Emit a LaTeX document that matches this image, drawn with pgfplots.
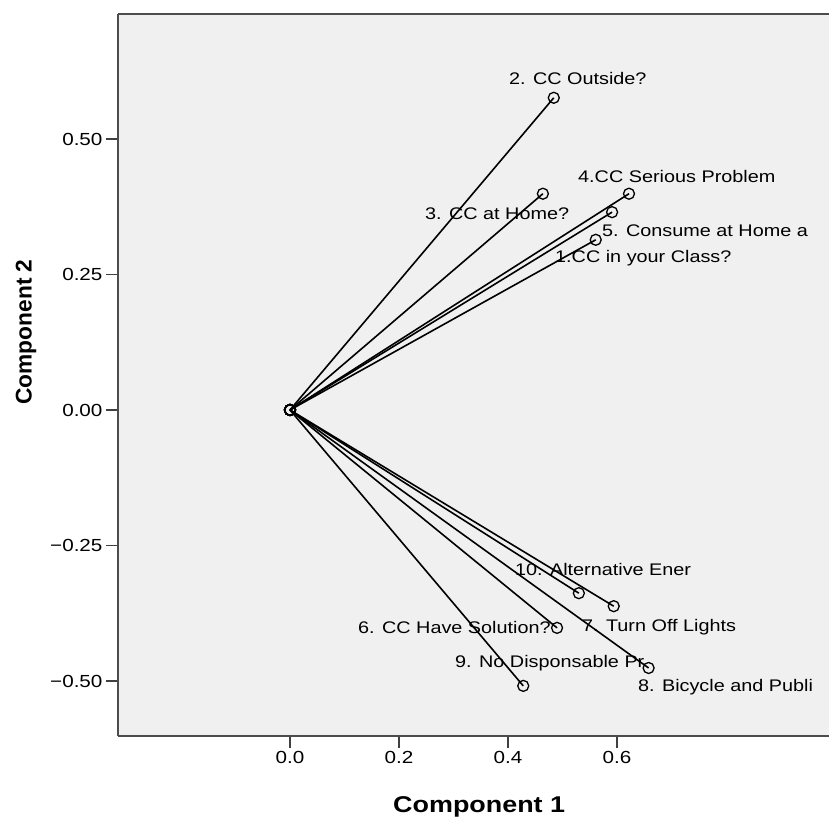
\documentclass[border=0pt]{standalone}
\usepackage{fontspec}
\setmainfont{Liberation Sans}[FakeStretch=1.18]
\newfontfamily\ylabfont{Liberation Sans}
\usepackage{pgfplots}
\pgfplotsset{compat=1.18}
\begin{document}
\begin{tikzpicture}
\begin{axis}[
  scale only axis, width=711pt, height=722pt,
  xmin=-0.3156, xmax=0.989, ymin=-0.6015, ymax=0.7306,
  axis background/.style={fill=black!6},
  axis x line*=box, axis y line*=left,
  axis line style={line width=2.5pt, black!70},
  xtick pos=bottom, ytick pos=left,
  tick align=outside, major tick length=12pt,
  every tick/.style={line width=1.6pt, black!75},
  xtick={0,0.2,0.4,0.6}, xticklabels={0.0,0.2,0.4,0.6},
  ytick={-0.5,-0.25,0,0.25,0.5},
  yticklabels={−0.50,−0.25,0.00,0.25,0.50},
  ticklabel style={font=\fontsize{17.5}{20}\selectfont, black},
  xlabel={Component 1},
  ylabel={Component 2},
  xlabel style={at={(axis description cs:0.508,0)}, yshift=-71pt, anchor=center, font=\fontsize{22.8}{26}\selectfont\bfseries},
  ylabel style={at={(axis description cs:-0.1294,0.5596)}, anchor=center, font=\fontsize{22.7}{26}\ylabfont\bfseries},
  clip=false,
  every axis plot post/.append style={black, solid, line width=1.6pt, mark=o, mark size=5.5pt, mark options={line width=1.3pt, solid, black}},
]
\coordinate (sw) at (rel axis cs:0,0);
\coordinate (ne) at (rel axis cs:1,1);
% text labels
\begin{scope}[every node/.style={anchor=west, inner sep=0pt, font=\fontsize{16.8}{19}\selectfont, black}]
\node at (axis cs:0.4018,0.6125) {2. CC Outside?};
\node at (axis cs:0.2477,0.3616) {3. CC at Home?};
\node at (axis cs:0.5284,0.4299) {4.CC Serious Problem};
\node at (axis cs:0.5725,0.3303) {5. Consume at Home a};
\node at (axis cs:0.4862,0.2804) {1.CC in your Class?};
\node at (axis cs:0.4128,-0.2952) {10. Alternative Ener};
\node at (axis cs:0.5358,-0.4004) {7. Turn Off Lights};
\node at (axis cs:0.1248,-0.4004) {6. CC Have Solution?};
\node at (axis cs:0.3028,-0.4668) {9. No Disponsable Pr};
\node at (axis cs:0.6385,-0.5111) {8. Bicycle and Publi};
\end{scope}
\addplot coordinates {(0,0) (0.561,0.314)};
\addplot coordinates {(0,0) (0.484,0.576)};
\addplot coordinates {(0,0) (0.464,0.399)};
\addplot coordinates {(0,0) (0.622,0.399)};
\addplot coordinates {(0,0) (0.591,0.365)};
\addplot coordinates {(0,0) (0.490,-0.402)};
\addplot coordinates {(0,0) (0.594,-0.362)};
\addplot coordinates {(0,0) (0.658,-0.476)};
\addplot coordinates {(0,0) (0.428,-0.509)};
\addplot coordinates {(0,0) (0.530,-0.338)};
\end{axis}
\pgfresetboundingbox
\path[use as bounding box] ([xshift=-118pt,yshift=-85pt]sw) rectangle ([yshift=14pt]ne);
\end{tikzpicture}
\end{document}
